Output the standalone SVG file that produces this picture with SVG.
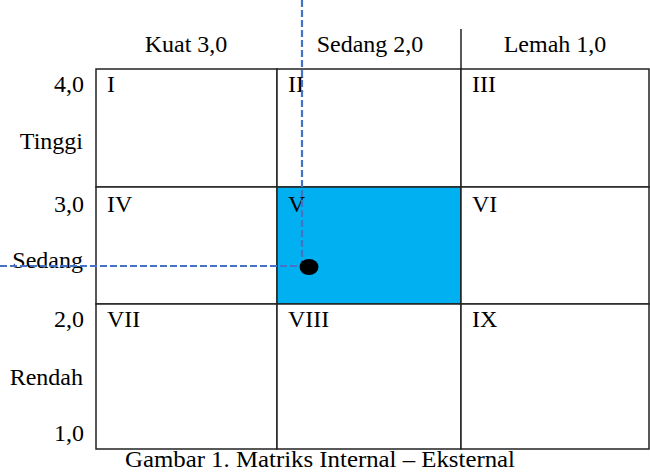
<svg xmlns="http://www.w3.org/2000/svg" width="650" height="473" viewBox="0 0 650 473">
<style>
text{font-family:"Liberation Serif","Times New Roman",serif;font-size:24px;fill:#000}
.cell{fill:#fff;stroke:#222;stroke-width:1.5}
.hi{fill:#00B0F0}
.mid{text-anchor:middle}
.end{text-anchor:end}
.dash{fill:none;stroke:#4472C4;stroke-width:2.2;stroke-dasharray:7 3}
</style>
<rect width="650" height="473" fill="#fff"/>
<g id="headers">
<text class="mid" x="186" y="52">Kuat 3,0</text>
<text class="mid" x="370" y="52">Sedang 2,0</text>
<text class="mid" x="555" y="52">Lemah 1,0</text>
<line x1="461" y1="29" x2="461" y2="69" stroke="#222" stroke-width="1.5"/>
</g>
<g id="row-labels">
<text class="end" x="84" y="92">4,0</text>
<text class="end" x="83" y="149">Tinggi</text>
<text class="end" x="84" y="212">3,0</text>
<text class="end" x="83" y="268">Sedang</text>
<text class="end" x="84" y="327">2,0</text>
<text class="end" x="83" y="385">Rendah</text>
<text class="end" x="84" y="441">1,0</text>
</g>
<g id="cell-I"><rect class="cell" x="96" y="69" width="181" height="118"/><text x="107" y="92">I</text></g>
<g id="cell-II"><rect class="cell" x="277" y="69" width="184" height="118"/><text x="288" y="92">II</text></g>
<g id="cell-III"><rect class="cell" x="461" y="69" width="188" height="118"/><text x="472" y="92">III</text></g>
<g id="cell-IV"><rect class="cell" x="96" y="187" width="181" height="117"/><text x="107" y="212">IV</text></g>
<g id="cell-V"><rect class="cell hi" x="277" y="187" width="184" height="117"/><text x="288" y="212">V</text></g>
<g id="cell-VI"><rect class="cell" x="461" y="187" width="188" height="117"/><text x="472" y="212">VI</text></g>
<g id="cell-VII"><rect class="cell" x="96" y="304" width="181" height="145"/><text x="107" y="327">VII</text></g>
<g id="cell-VIII"><rect class="cell" x="277" y="304" width="184" height="145"/><text x="288" y="327">VIII</text></g>
<g id="cell-IX"><rect class="cell" x="461" y="304" width="188" height="145"/><text x="472" y="327">IX</text></g>
<g id="connectors">
<line class="dash" x1="302" y1="0" x2="302" y2="266"/>
<line class="dash" x1="0" y1="266" x2="302" y2="266"/>
</g>
<g id="point"><ellipse cx="309" cy="267" rx="9.5" ry="8" fill="#000"/></g>
<text id="caption" x="125" y="467" textLength="390" lengthAdjust="spacingAndGlyphs">Gambar 1. Matriks Internal – Eksternal</text>
</svg>
